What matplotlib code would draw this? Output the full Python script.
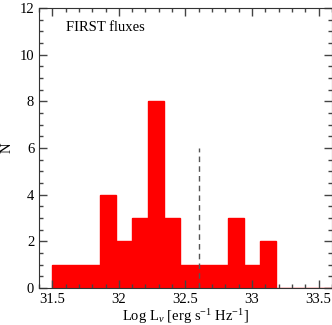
import matplotlib
matplotlib.use("Agg")
import matplotlib.pyplot as plt
import numpy as np
from matplotlib.ticker import MultipleLocator

# histogram of FIRST luminosities (bin width 0.12 dex)
bin_edges = [31.50, 31.62, 31.74, 31.86, 31.98, 32.10, 32.22, 32.34, 32.46,
             32.58, 32.70, 32.82, 32.94, 33.06, 33.18, 33.30, 33.42, 33.54, 33.66]
counts = [1, 1, 1, 4, 2, 3, 8, 3, 1, 1, 1, 3, 1, 2, 0, 0, 0, 0]
limit_x = 32.60
limit_top = 6
label = "FIRST fluxes"

plt.rcParams.update({"font.family": "serif", "font.serif": ["Liberation Serif"],
                     "font.size": 10.5,
                     "mathtext.fontset": "custom", "mathtext.rm": "Liberation Serif",
                     "mathtext.it": "Liberation Serif:italic"})
fig = plt.figure(figsize=(3.32, 3.25), dpi=100)
ax = fig.add_axes([0.1175, 0.1138, 0.882, 0.8615])

ax.stairs(counts, bin_edges, fill=True, color="#ff0000", linewidth=0)
ax.stairs(counts, bin_edges, color="#ff0000", linewidth=1.0)
ax.plot([limit_x, limit_x], [0, limit_top], ls=(0, (4, 3)), color="#555555", lw=1.0)

ax.set_xlim(31.4, 33.6)
ax.set_ylim(0, 12)
ax.xaxis.set_major_locator(MultipleLocator(0.5))
ax.xaxis.set_minor_locator(MultipleLocator(0.1))
ax.yaxis.set_major_locator(MultipleLocator(2))
ax.yaxis.set_minor_locator(MultipleLocator(0.5))
ax.set_xticks([31.5, 32, 32.5, 33, 33.5])
ax.set_xticklabels(["31.5", "32", "32.5", "33", "33.5"])
ax.tick_params(which="both", direction="in", top=True, right=True, color="#444444")
ax.tick_params(which="major", length=6, width=1, labelsize=10.5)
ax.tick_params(which="minor", length=3, width=1)
for s in ax.spines.values():
    s.set_color("#333333")

ax.text(31.6, 11.15, label, va="center", ha="left")
ax.set_xlabel(r"Log L$_\nu$ [erg s$^{-1}$ Hz$^{-1}$]", labelpad=1)
ax.set_ylabel("N", labelpad=4)
fig.savefig("out.png", dpi=100)
